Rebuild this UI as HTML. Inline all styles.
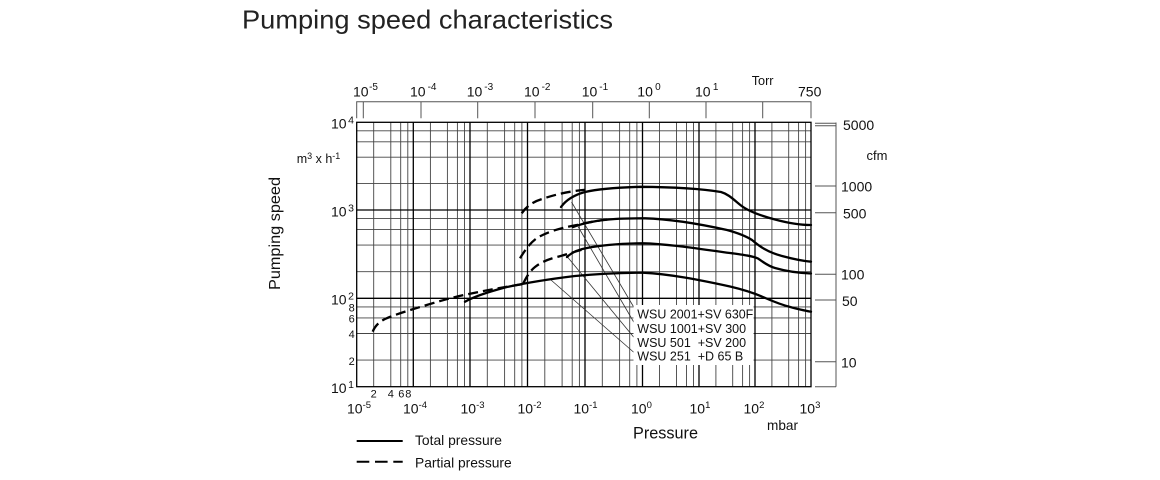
<!DOCTYPE html>
<html>
<head>
<meta charset="utf-8">
<style>
  html, body { margin: 0; padding: 0; background: #fff; }
  svg { display: block; }
  text { font-family: "Liberation Sans", Arial, sans-serif; fill: #111; }
</style>
</head>
<body>
<svg width="1160" height="480" viewBox="0 0 1160 480" xmlns="http://www.w3.org/2000/svg">
  <rect x="0" y="0" width="1160" height="480" fill="#fff"/>

  <!-- Title -->
  <text x="242" y="28.5" font-size="26" textLength="371" lengthAdjust="spacingAndGlyphs" style="fill:#222">Pumping speed characteristics</text>

  <!-- Torr box -->
  <g stroke="#555" stroke-width="1" fill="none">
    <path d="M356.7,118.3 V101.7 H811 V118.3"/>
    <line x1="363.3" y1="101.7" x2="363.3" y2="118.3"/>
    <line x1="421" y1="101.7" x2="421" y2="118.3"/>
    <line x1="477.7" y1="101.7" x2="477.7" y2="118.3"/>
    <line x1="535" y1="101.7" x2="535" y2="118.3"/>
    <line x1="592.7" y1="101.7" x2="592.7" y2="118.3"/>
    <line x1="649.3" y1="101.7" x2="649.3" y2="118.3"/>
    <line x1="706" y1="101.7" x2="706" y2="118.3"/>
    <line x1="762.7" y1="101.7" x2="762.7" y2="118.3"/>
  </g>
  <g font-size="14">
    <text x="353" y="96.7">10<tspan font-size="10" dx="0.5" dy="-6.5">-5</tspan></text>
    <text x="410" y="96.7">10<tspan font-size="10" dx="2" dy="-6.5">-4</tspan></text>
    <text x="466.7" y="96.7">10<tspan font-size="10" dx="2" dy="-6.5">-3</tspan></text>
    <text x="524" y="96.7">10<tspan font-size="10" dx="2" dy="-6.5">-2</tspan></text>
    <text x="581.7" y="96.7">10<tspan font-size="10" dx="2" dy="-6.5">-1</tspan></text>
    <text x="637.3" y="96.7">10<tspan font-size="10" dx="2.3" dy="-6.5">0</tspan></text>
    <text x="695" y="96.7">10<tspan font-size="10" dx="2.3" dy="-6.5">1</tspan></text>
    <text x="798" y="96.7">750</text>
  </g>
  <text x="751.7" y="85" font-size="12.7">Torr</text>

  <!-- Minor grid -->
  <g stroke="#444" stroke-width="0.9" fill="none">
    <path d="M373.7,122.3V386.7 M390.8,122.3V386.7 M400.7,122.3V386.7 M407.8,122.3V386.7
             M430.4,122.3V386.7 M447.4,122.3V386.7 M457.4,122.3V386.7 M464.5,122.3V386.7
             M487.3,122.3V386.7 M504.6,122.3V386.7 M514.7,122.3V386.7 M521.9,122.3V386.7
             M544.8,122.3V386.7 M562.1,122.3V386.7 M572.2,122.3V386.7 M579.4,122.3V386.7
             M602.3,122.3V386.7 M619.6,122.3V386.7 M629.7,122.3V386.7 M636.9,122.3V386.7
             M659.5,122.3V386.7 M676.5,122.3V386.7 M686.5,122.3V386.7 M693.5,122.3V386.7
             M715.9,122.3V386.7 M732.7,122.3V386.7 M742.6,122.3V386.7 M749.6,122.3V386.7
             M771.9,122.3V386.7 M788.7,122.3V386.7 M798.6,122.3V386.7 M805.6,122.3V386.7"/>
    <path d="M356.7,360.1H811 M356.7,333.5H811 M356.7,317.9H811 M356.7,306.9H811
             M356.7,271.7H811 M356.7,245.1H811 M356.7,229.6H811 M356.7,218.6H811
             M356.7,183.6H811 M356.7,157.2H811 M356.7,141.8H811 M356.7,130.8H811"/>
  </g>
  <!-- Decade grid -->
  <g stroke="#000" stroke-width="1.3" fill="none">
    <path d="M413.3,122.3V386.7 M470,122.3V386.7 M527.5,122.3V386.7 M585,122.3V386.7
             M642.5,122.3V386.7 M699,122.3V386.7 M755,122.3V386.7"/>
    <path d="M356.7,298.3H811 M356.7,210H811"/>
    <rect x="356.7" y="122.3" width="454.3" height="264.4"/>
  </g>

  <!-- cfm axis -->
  <g stroke="#555" stroke-width="1" fill="none">
    <line x1="836" y1="122.5" x2="836" y2="386.7"/>
    <path d="M815,123.3H836 M815,125.7H836 M815,186H836 M815,212.7H836 M815,274.3H836 M815,300H836 M815,361.7H836 M815,386.7H836"/>
  </g>
  <g font-size="14">
    <text x="843" y="130">5000</text>
    <text x="841" y="191.7">1000</text>
    <text x="843" y="218.3">500</text>
    <text x="841" y="279.5">100</text>
    <text x="842" y="306">50</text>
    <text x="841" y="367.3">10</text>
  </g>
  <text x="866.5" y="160" font-size="13">cfm</text>

  <!-- Y axis labels -->
  <g font-size="14">
    <text x="331" y="128.6">10<tspan font-size="10.5" dx="1.5" dy="-5">4</tspan></text>
    <text x="331" y="216.4">10<tspan font-size="10.5" dx="1.5" dy="-5">3</tspan></text>
    <text x="331" y="304.7">10<tspan font-size="10.5" dx="1.5" dy="-5">2</tspan></text>
    <text x="331" y="393.1">10<tspan font-size="10.5" dx="1.5" dy="-5">1</tspan></text>
  </g>
  <g font-size="11" text-anchor="middle">
    <text x="351.7" y="311.6">8</text>
    <text x="351.7" y="322.5">6</text>
    <text x="351.7" y="338">4</text>
    <text x="351.7" y="365">2</text>
  </g>
  <text x="296.7" y="163" font-size="12.5">m<tspan font-size="9" dy="-4">3</tspan><tspan dy="4"> x h</tspan><tspan font-size="9" dy="-4">-1</tspan></text>
  <text transform="translate(280,290) rotate(-90)" x="0" y="0" font-size="16" textLength="113" lengthAdjust="spacingAndGlyphs">Pumping speed</text>

  <!-- X axis labels -->
  <g font-size="11" text-anchor="middle">
    <text x="373.7" y="397.5">2</text>
    <text x="390.8" y="397.5">4</text>
    <text x="401.3" y="397.5">6</text>
    <text x="408.3" y="397.5">8</text>
  </g>
  <g font-size="14">
    <text x="347" y="413.3">10<tspan font-size="9.5" dy="-5.5">-5</tspan></text>
    <text x="403" y="413.3">10<tspan font-size="9.5" dy="-5.5">-4</tspan></text>
    <text x="460.5" y="413.3">10<tspan font-size="9.5" dy="-5.5">-3</tspan></text>
    <text x="517.5" y="413.3">10<tspan font-size="9.5" dy="-5.5">-2</tspan></text>
    <text x="573.5" y="413.3">10<tspan font-size="9.5" dy="-5.5">-1</tspan></text>
    <text x="631" y="413.3">10<tspan font-size="9.5" dy="-5.5">0</tspan></text>
    <text x="689.5" y="413.3">10<tspan font-size="9.5" dy="-5.5">1</tspan></text>
    <text x="743.5" y="413.3">10<tspan font-size="9.5" dy="-5.5">2</tspan></text>
    <text x="799.5" y="413.3">10<tspan font-size="9.5" dy="-5.5">3</tspan></text>
  </g>
  <text x="767" y="430" font-size="13.6" textLength="31" lengthAdjust="spacingAndGlyphs">mbar</text>
  <text x="633" y="438.6" font-size="16.2" textLength="65" lengthAdjust="spacingAndGlyphs">Pressure</text>

  <!-- Legend -->
  <line x1="356.7" y1="441" x2="402.7" y2="441" stroke="#000" stroke-width="2"/>
  <line x1="356.7" y1="461.7" x2="402.7" y2="461.7" stroke="#000" stroke-width="2" stroke-dasharray="12.6 5.7"/>
  <text x="415" y="445" font-size="13.6" textLength="87" lengthAdjust="spacingAndGlyphs">Total pressure</text>
  <text x="415" y="467.3" font-size="13.6" textLength="96.7" lengthAdjust="spacingAndGlyphs">Partial pressure</text>

  <!-- Leader lines -->
  <g stroke="#333" stroke-width="0.8" fill="none">
    <line x1="571.5" y1="202" x2="634" y2="307.5"/>
    <line x1="578" y1="226.5" x2="634" y2="322.5"/>
    <line x1="566.7" y1="256" x2="634" y2="337.5"/>
    <line x1="551" y1="280" x2="634" y2="352.5"/>
  </g>

  <!-- Label box -->
  <rect x="633.5" y="305" width="120" height="60" fill="#fff"/>
  <g font-size="12.5" style="white-space:pre">
    <text x="637.3" y="318.5" textLength="116" lengthAdjust="spacingAndGlyphs">WSU 2001+SV 630F</text>
    <text x="637.3" y="332.8" xml:space="preserve">WSU 1001+SV 300</text>
    <text x="637.3" y="346.8" xml:space="preserve">WSU 501  +SV 200</text>
    <text x="637.3" y="360.7" xml:space="preserve">WSU 251  +D 65 B</text>
  </g>

  <!-- Curves: solid -->
  <g stroke="#000" stroke-width="2.3" fill="none" stroke-linecap="round" stroke-linejoin="round">
    <path d="M561,207 C566,200 574,195 585,192 C598,189 615,187.5 640,186.8 C670,187 700,188.5 721,192 C728,194 733,199 741,205.5 C748,211 760,215.5 775,219.5 C788,223 800,225 811,225"/>
    <path d="M573,227 C585,222.5 600,220 615,219 C625,218.3 635,218.3 645,218.3 C670,219 700,224 727,230 C738,233 745,235.5 752,240 C759,246 767,252 782,256 C795,259.5 803,261 811,261.7"/>
    <path d="M567,257 C572,252 578,249.5 587,248 C600,245.5 620,243.5 643,243.3 C670,244 700,249 730,253 C745,255 752,256 758,258.5 C763,262 768,266 775,268 C787,271.5 800,273 811,273.5"/>
    <path d="M465,301.7 C475,296 490,291.5 505,287.5 C525,283 550,279 575,276 C600,273.5 620,272.7 643,272.7 C670,274 700,280 730,286.5 C745,290 755,293.5 763,297 C772,301 782,305 792,307.5 C800,309.5 806,311 811,311.7"/>
  </g>
  <!-- Curves: dashed -->
  <g stroke="#000" stroke-width="2.3" fill="none" stroke-dasharray="10 5">
    <path d="M521.7,213.3 C526,207 532,202 542,199 C555,194.5 570,191 588,189.5"/>
    <path d="M520,258.3 C525,250 530,243 537,238 C547,232 560,228 576.7,225 C588,222.5 598,220.5 607,219.5"/>
    <path d="M523.3,283.3 C527,276 530,271 535,267 C540,263 546,260 555,257.5 C565,255 575,251.5 585,249"/>
    <path d="M372.7,331.7 C375,326 379,322 385,319 C395,314.5 410,310 426.7,305 C440,301 452,297.5 465,294.8 C485,290.5 505,286.8 525,283.8"/>
  </g>
</svg>
</body>
</html>
